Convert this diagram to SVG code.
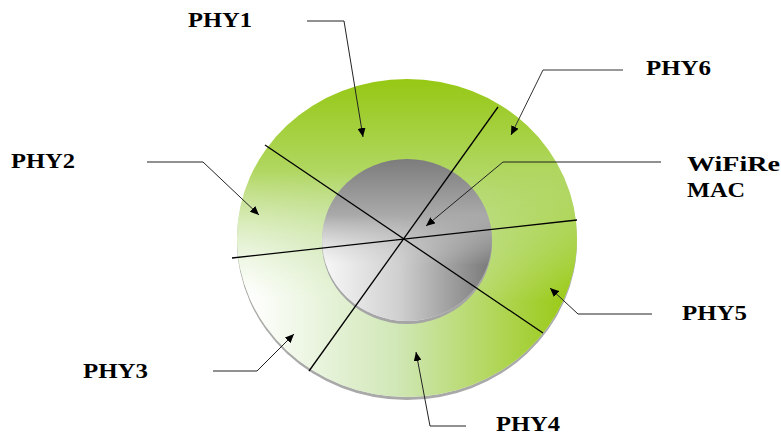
<svg xmlns="http://www.w3.org/2000/svg" width="781" height="436" viewBox="0 0 781 436">
  <defs>
    <linearGradient id="gV" x1="0" y1="79" x2="0" y2="397" gradientUnits="userSpaceOnUse">
      <stop offset="0" stop-color="#96c814"/>
      <stop offset="0.55" stop-color="#c8e4a6"/>
      <stop offset="1" stop-color="#f6faf0"/>
    </linearGradient>
    <linearGradient id="gH" x1="250" y1="0" x2="577" y2="0" gradientUnits="userSpaceOnUse">
      <stop offset="0" stop-color="#ffffff"/>
      <stop offset="0.45" stop-color="#d0e7b6"/>
      <stop offset="1" stop-color="#97c80c"/>
    </linearGradient>
    <linearGradient id="mV" x1="0" y1="170" x2="0" y2="300" gradientUnits="userSpaceOnUse">
      <stop offset="0" stop-color="#000"/>
      <stop offset="1" stop-color="#fff"/>
    </linearGradient>
    <mask id="mRing" maskUnits="userSpaceOnUse" x="0" y="0" width="781" height="436">
      <rect x="0" y="0" width="781" height="436" fill="url(#mV)"/>
    </mask>
    <linearGradient id="iV" x1="0" y1="159" x2="0" y2="321" gradientUnits="userSpaceOnUse">
      <stop offset="0" stop-color="#7c7c7c"/>
      <stop offset="0.55" stop-color="#c4c4c4"/>
      <stop offset="1" stop-color="#eeeeee"/>
    </linearGradient>
    <linearGradient id="iH" x1="322" y1="0" x2="492" y2="0" gradientUnits="userSpaceOnUse">
      <stop offset="0" stop-color="#f8f8f8"/>
      <stop offset="0.45" stop-color="#d0d0d0"/>
      <stop offset="1" stop-color="#787878"/>
    </linearGradient>
    <linearGradient id="mI" x1="0" y1="215" x2="0" y2="265" gradientUnits="userSpaceOnUse">
      <stop offset="0" stop-color="#000"/>
      <stop offset="1" stop-color="#fff"/>
    </linearGradient>
    <mask id="mInner" maskUnits="userSpaceOnUse" x="0" y="0" width="781" height="436">
      <rect x="0" y="0" width="781" height="436" fill="url(#mI)"/>
    </mask>
    <marker id="ah" markerUnits="userSpaceOnUse" markerWidth="10" markerHeight="8" refX="9" refY="4" orient="auto">
      <path d="M0,0 L9,4 L0,8 Z" fill="#000"/>
    </marker>
  </defs>
  <style>
    .lbl { font-family: "Liberation Serif", "Times New Roman", serif; font-weight: bold; font-size: 21px; fill: #000; }
    .conn { fill: none; stroke: #222; stroke-width: 1; }
    .div { stroke: #000; stroke-width: 1.3; }
  </style>

  <g id="outer-disc">
    <ellipse cx="407" cy="241" rx="170" ry="159" fill="#a9a9a9"/>
    <ellipse cx="407" cy="238" rx="170" ry="159" fill="url(#gV)"/>
    <ellipse cx="407" cy="238" rx="170" ry="159" fill="url(#gH)" mask="url(#mRing)"/>
  </g>
  <g id="inner-disc">
    <ellipse cx="407" cy="243" rx="85" ry="81" fill="#a5a5a5"/>
    <ellipse cx="407" cy="240" rx="85" ry="81" fill="url(#iV)"/>
    <ellipse cx="407" cy="240" rx="85" ry="81" fill="url(#iH)" mask="url(#mInner)"/>
  </g>
  <g id="dividers">
    <line class="div" x1="265" y1="145" x2="543" y2="333"/>
    <line class="div" x1="498" y1="107" x2="309" y2="371"/>
    <line class="div" x1="232" y1="258" x2="577" y2="220"/>
  </g>

  <g id="connectors">
    <polyline class="conn" points="307,21 344,21 363,137" marker-end="url(#ah)"/>
    <polyline class="conn" points="147,162 203,162 259,215" marker-end="url(#ah)"/>
    <polyline class="conn" points="213,371 257,371 294,334" marker-end="url(#ah)"/>
    <polyline class="conn" points="466,426 430,426 416,352" marker-end="url(#ah)"/>
    <polyline class="conn" points="652,314 578,314 550,288" marker-end="url(#ah)"/>
    <polyline class="conn" points="661,162 503,162 426,226" marker-end="url(#ah)"/>
    <polyline class="conn" points="623,70 543,70 511,135" marker-end="url(#ah)" style="stroke:#333"/>
  </g>

  <g id="label-phy1"><text class="lbl" x="188" y="27" textLength="64" lengthAdjust="spacingAndGlyphs">PHY1</text></g>
  <g id="label-phy2"><text class="lbl" x="11" y="168" textLength="64" lengthAdjust="spacingAndGlyphs">PHY2</text></g>
  <g id="label-phy3"><text class="lbl" x="83" y="378" textLength="65" lengthAdjust="spacingAndGlyphs">PHY3</text></g>
  <g id="label-phy4"><text class="lbl" x="496" y="431" textLength="64" lengthAdjust="spacingAndGlyphs">PHY4</text></g>
  <g id="label-phy5"><text class="lbl" x="682" y="320" textLength="65" lengthAdjust="spacingAndGlyphs">PHY5</text></g>
  <g id="label-phy6"><text class="lbl" x="646" y="75" textLength="65" lengthAdjust="spacingAndGlyphs">PHY6</text></g>
  <g id="label-mac">
    <text class="lbl" x="687" y="171" textLength="93" lengthAdjust="spacingAndGlyphs">WiFiRe</text>
    <text class="lbl" x="687" y="197" textLength="58" lengthAdjust="spacingAndGlyphs">MAC</text>
  </g>
</svg>
